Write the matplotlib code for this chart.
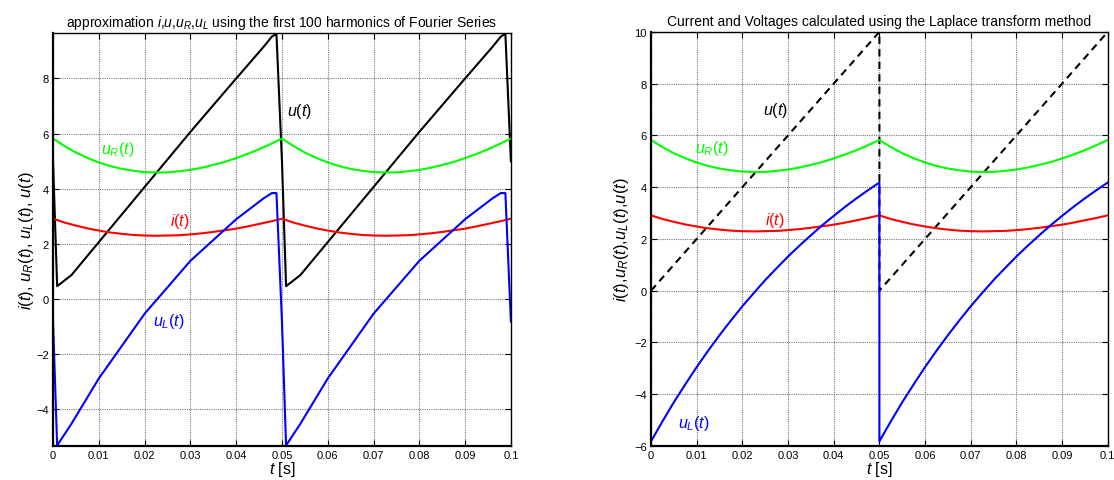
import matplotlib
matplotlib.use("Agg")
from matplotlib import pyplot as plt

plt.rcParams['font.family'] = ['Liberation Sans', 'DejaVu Sans']
plt.rcParams['mathtext.fontset'] = 'custom'
plt.rcParams['mathtext.rm'] = 'Liberation Sans'
plt.rcParams['mathtext.it'] = 'Liberation Sans:italic'

# one period of the Laplace solution (T = 0.05 s)
t_period = [0, 0.0025, 0.005, 0.0075, 0.01, 0.0125, 0.015, 0.0175, 0.02, 0.0225,
            0.025, 0.0275, 0.03, 0.0325, 0.035, 0.0375, 0.04, 0.0425, 0.045, 0.0475, 0.05]
i_period = [2.91, 2.77, 2.66, 2.56, 2.48, 2.41, 2.36, 2.32, 2.30, 2.29,
            2.30, 2.31, 2.34, 2.38, 2.43, 2.49, 2.55, 2.63, 2.72, 2.81, 2.91]
uR_period = [5.82, 5.55, 5.31, 5.12, 4.95, 4.82, 4.72, 4.65, 4.60, 4.59,
             4.59, 4.63, 4.68, 4.76, 4.86, 4.97, 5.11, 5.26, 5.43, 5.62, 5.82]
u_period = [0, 0.5, 1.0, 1.5, 2.0, 2.5, 3.0, 3.5, 4.0, 4.5,
            5.0, 5.5, 6.0, 6.5, 7.0, 7.5, 8.0, 8.5, 9.0, 9.5, 10.0]
uL_period = [-5.82, -5.05, -4.31, -3.62, -2.95, -2.32, -1.72, -1.15, -0.60, -0.09,
             0.41, 0.87, 1.32, 1.74, 2.14, 2.53, 2.89, 3.24, 3.57, 3.88, 4.18]

# Fourier approximation (100 harmonics), one period of u and u_L
tf_period = [0, 0.0009, 0.004, 0.01, 0.02, 0.03, 0.04, 0.046, 0.0478, 0.0488]
uf_period = [5.0, 0.46, 0.86, 2.06, 4.06, 6.06, 8.0, 9.15, 9.52, 9.62]
uLf_period = [-0.82, -5.32, -4.54, -2.89, -0.54, 1.38, 2.89, 3.65, 3.84, 3.84]
uf_end = 5.0
uLf_end = -0.82

T = 0.05
xticks = [0, 0.01, 0.02, 0.03, 0.04, 0.05, 0.06, 0.07, 0.08, 0.09, 0.1]
xticklabels = ['0', '0.01', '0.02', '0.03', '0.04', '0.05', '0.06', '0.07', '0.08', '0.09', '0.1']

t2 = t_period + [x + T for x in t_period]
i2 = i_period * 2
uR2 = uR_period * 2
u2 = u_period * 2
uL2 = uL_period * 2

tf2 = tf_period + [x + T for x in tf_period] + [2 * T]
uf2 = uf_period * 2 + [uf_end]
uLf2 = uLf_period * 2 + [uLf_end]

fig = plt.figure(figsize=(11.14, 4.81), dpi=100)
ax1 = fig.add_axes([0.0476, 0.0707, 0.411, 0.858])
ax2 = fig.add_axes([0.5844, 0.0707, 0.410, 0.861])

lw = 1.5
lab_fs = 11.5


def style_axes(ax):
    ax.set_xlim(0, 0.1)
    ax.set_xticks(xticks)
    ax.set_xticklabels(xticklabels)
    ax.grid(True, color='#7a7a7a', linestyle=(0, (1, 1)), linewidth=0.8)
    ax.tick_params(direction='in', top=True, right=True, labelsize=8, length=4, width=0.8, pad=3)
    for s in ax.spines.values():
        s.set_linewidth(1.0)
    ax.spines['left'].set_linewidth(1.6)
    ax.spines['bottom'].set_linewidth(1.6)
    ax.set_xlabel('$t$ [s]', fontsize=11.5, labelpad=-1)


# left: Fourier approximation
ax1.plot(tf2, uf2, color='black', lw=lw)
ax1.plot(t2, uR2, color='#00ff00', lw=lw)
ax1.plot(t2, i2, color='#ff0000', lw=lw)
ax1.plot(tf2, uLf2, color='#0000ff', lw=lw)
style_axes(ax1)
ax1.set_ylim(min(uLf2) - 0.02, max(uf2) + 0.02)
ax1.set_yticks([-4, -2, 0, 2, 4, 6, 8])
ax1.set_title('approximation $i$,$u$,$u_R$,$u_L$ using the first 100 harmonics of Fourier Series',
              fontsize=10, pad=5)
ax1.set_ylabel('$i(t)$, $u_R(t)$, $u_L(t)$, $u(t)$', fontsize=12, labelpad=0)
ax1.text(0.0512, 6.85, '$u(t)$', color='black', fontsize=lab_fs, va='center')
ax1.text(0.0105, 5.45, '$u_R(t)$', color='#00ff00', fontsize=lab_fs, va='center')
ax1.text(0.0255, 2.85, '$i(t)$', color='#ff0000', fontsize=lab_fs, va='center')
ax1.text(0.0218, -0.8, '$u_L(t)$', color='#0000ff', fontsize=lab_fs, va='center')

# right: Laplace transform solution
ax2.plot(t2, u2, color='black', lw=lw, linestyle='--', dashes=(3.5, 2.5))
ax2.plot(t2, uR2, color='#00ff00', lw=lw)
ax2.plot(t2, i2, color='#ff0000', lw=lw)
ax2.plot(t2, uL2, color='#0000ff', lw=lw)
style_axes(ax2)
ax2.set_ylim(-6, 10)
ax2.set_yticks([-6, -4, -2, 0, 2, 4, 6, 8, 10])
ax2.set_title('Current and Voltages calculated using the Laplace transform method', fontsize=10, pad=5)
ax2.set_ylabel('$i(t)$,$u_R(t)$,$u_L(t)$,$u(t)$', fontsize=12, labelpad=2)
ax2.text(0.0245, 7.0, '$u(t)$', color='black', fontsize=lab_fs, va='center')
ax2.text(0.0097, 5.55, '$u_R(t)$', color='#00ff00', fontsize=lab_fs, va='center')
ax2.text(0.025, 2.75, '$i(t)$', color='#ff0000', fontsize=lab_fs, va='center')
ax2.text(0.0059, -5.1, '$u_L(t)$', color='#0000ff', fontsize=lab_fs, va='center')

fig.savefig('out.png', dpi=100)
